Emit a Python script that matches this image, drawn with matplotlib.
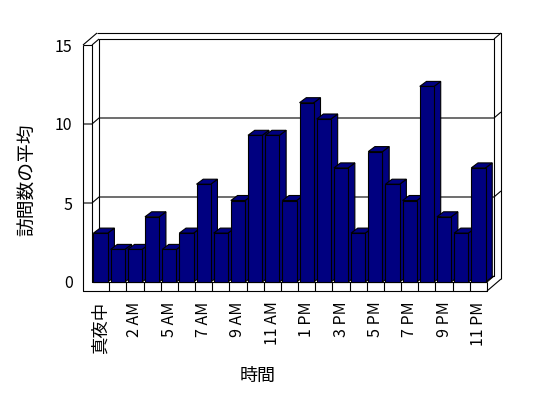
import numpy as np
import matplotlib
matplotlib.use("Agg")
import matplotlib.pyplot as plt

plt.rcParams['font.family'] = ['Noto Sans CJK JP', 'DejaVu Sans']

# hourly categories (4 AM has no data)
hours = ['真夜中', '1 AM', '2 AM', '3 AM', '5 AM', '6 AM', '7 AM', '8 AM', '9 AM',
         '10 AM', '11 AM', '正午', '1 PM', '2 PM', '3 PM', '4 PM', '5 PM', '6 PM',
         '7 PM', '8 PM', '9 PM', '10 PM', '11 PM']
visits = [3, 2, 2, 4, 2, 3, 6, 3, 5, 9, 9, 5, 11, 10, 7, 3, 8, 6, 5, 12, 4, 3, 7]
yticks = [0, 5, 10, 15]

navy = '#000080'
W, H = 548, 398
L, R, T, B = 92, 487, 45, 282          # front plane of the plot, pixels
n = len(hours)

fig = plt.figure(figsize=(W / 100, H / 100), dpi=100)
rect = [L / W, 1 - B / H, (R - L) / W, (B - T) / H]

# --- walls / floor -----------------------------------------------------------
ax = fig.add_axes(rect)
ax.set_xlim(-0.5, n - 0.5)
ax.set_ylim(0, 15)
ax.patch.set_visible(False)
for s in ax.spines.values():
    s.set_visible(False)

ux = (R - L) / n          # px per category
uy = (B - T) / 15         # px per y unit
dep = (7, 6)              # wall depth offset in px
wall = 9                  # wall thickness in px
xl, xr = -0.5, n - 0.5


def P(x, y, ox=0, oy=0):
    return x + ox / ux, y + oy / uy


def seg(*pts, **kw):
    xs = [p[0] for p in pts]
    ys = [p[1] for p in pts]
    ax.plot(xs, ys, color='black', lw=0.8, clip_on=False,
            solid_capstyle='butt', **kw)


d1, d2 = dep, (2 * dep[0], 2 * dep[1])
# back wall front face
seg(P(xl, 0, *d1), P(xl, 15, *d1), P(xr, 15, *d1), P(xr, 0, *d1), P(xl, 0, *d1))
# back wall thickness (top + right)
seg(P(xl, 15, -wall + d2[0], d2[1]), P(xr, 15, *d2), P(xr, 0, d2[0], -wall + d2[1]))
seg(P(xr, 15, *d1), P(xr, 15, *d2))
# left wall
seg(P(xl, 15, -wall), P(xl, 0, -wall, -wall), P(xr, 0, 0, -wall), P(xr, 0))
seg(P(xl, 15, -wall), P(xl, 15), P(xl, 0), P(xr, 0))
seg(P(xl, 15, -wall), P(xl, 15, -wall + d2[0], d2[1]))
seg(P(xl, 15), P(xl, 15, *d1))
# floor right end
seg(P(xr, 0), P(xr, 0, *d1))
seg(P(xr, 0, 0, -wall), P(xr, 0, d2[0], -wall + d2[1]))
# category separators on floor edge
for k in range(1, n):
    seg(P(k - 0.5, 0), P(k - 0.5, 0, 0, -wall))
# gridlines
for v in yticks[1:-1]:
    seg(P(xl, v, -wall), P(xl, v), P(xl, v, *d1), P(xr, v, *d1), P(xr, v, *d2))

ax.set_yticks(yticks)
ax.tick_params(axis='y', length=0, pad=14, labelsize=11.5)
ax.set_xticks(np.arange(0, n, 2))
ax.set_xticklabels(hours[::2], rotation=90, va='top', ha='center')
ax.tick_params(axis='x', length=0, pad=14, labelsize=11.5)
ax.get_xticklabels()[0].set_fontsize(12.5)
ax.set_xlabel('時間', fontsize=13, va='center')
ax.xaxis.set_label_coords((258 - L) / (R - L), -(376 - B) / (B - T))
ax.set_ylabel('訪問数の平均', fontsize=13.5, va='center')
ax.yaxis.set_label_coords((28 - L) / (R - L), (B - 180) / (B - T))

# --- 3d bars -----------------------------------------------------------------
bx = fig.add_axes(rect)
bx.patch.set_visible(False)
bx.axis('off')
by = 16.3                       # px per unit on the bars' plane
bx.set_xlim(-0.5, n - 0.5)
bx.set_ylim(0, (B - T) / by)
w = 0.83
ddx, ddy = 6.7 / ux, 5 / by
for i, v in enumerate(visits):
    z = 3 + i * 0.01
    x0, x1 = i - w / 2, i + w / 2
    bx.fill([x1, x1 + ddx, x1 + ddx, x1], [0, ddy, v + ddy, v],
            facecolor=navy, edgecolor='black', lw=0.8, zorder=z, clip_on=False)
    bx.fill([x0, x1, x1 + ddx, x0 + ddx], [v, v, v + ddy, v + ddy],
            facecolor=navy, edgecolor='black', lw=0.8, zorder=z, clip_on=False)
    bx.bar(i, v, width=w, color=navy, edgecolor='black', lw=0.8, zorder=z,
           clip_on=False)

fig.savefig('out.png', dpi=100)
